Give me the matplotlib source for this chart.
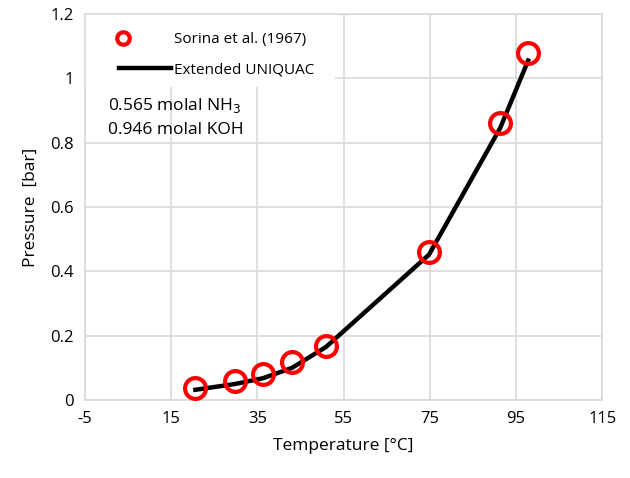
import matplotlib
matplotlib.use("Agg")
import matplotlib.pyplot as plt
from matplotlib.patches import Rectangle

# experimental data (Sorina et al. 1967)
tExp = [20.6, 29.8, 36.3, 43.0, 50.9, 74.8, 91.3, 97.8]
pExp = [0.037, 0.060, 0.080, 0.118, 0.168, 0.459, 0.861, 1.079]

# model curve (Extended UNIQUAC)
tMod = [20.6, 29.8, 36.3, 43.0, 50.9, 74.8, 91.3, 97.8]
pMod = [0.032, 0.050, 0.068, 0.100, 0.165, 0.452, 0.845, 1.055]

xTicks = [-5, 15, 35, 55, 75, 95, 115]
yTicks = [0, 0.2, 0.4, 0.6, 0.8, 1.0, 1.2]
yTickLabels = ['0', '0.2', '0.4', '0.6', '0.8', '1', '1.2']

plt.rcParams['font.family'] = ['Open Sans', 'DejaVu Sans']
plt.rcParams['axes.unicode_minus'] = False

fig = plt.figure(figsize=(6.3, 4.78), dpi=100)
ax = fig.add_axes([0.135, 0.163, 0.821, 0.808])

ax.plot(tMod, pMod, color='black', lw=3.2, label='Extended UNIQUAC', zorder=2)
ax.plot(tExp, pExp, 'o', ms=15, mfc='none', mec='red', mew=3,
        label='Sorina et al. (1967)', zorder=3)

ax.set_xlim(-5, 115)
ax.set_ylim(0, 1.2)
ax.set_xticks(xTicks)
ax.set_yticks(yTicks)
ax.set_yticklabels(yTickLabels)
ax.tick_params(length=0, labelsize=12, pad=8)
ax.grid(True, color='#d9d9d9', lw=1.2)
ax.set_axisbelow(True)
for s in ax.spines.values():
    s.set_color('#d9d9d9')
    s.set_linewidth(1.2)

ax.set_xlabel('Temperature [°C]', fontsize=12.5, labelpad=8)
ax.set_ylabel('Pressure  [bar]', fontsize=12.5, labelpad=8)

# white legend area hides the grid, reaching the left axis
ax.add_patch(Rectangle((0, 0.81), 0.484, 0.19, transform=ax.transAxes,
                       facecolor='white', edgecolor='none', zorder=1))

# legend, order: markers then line
h, l = ax.get_legend_handles_labels()
leg = ax.legend(h[::-1], l[::-1], loc='upper left', bbox_to_anchor=(0.03, 1.0),
                borderaxespad=0, borderpad=1.2, frameon=False,
                fontsize=11, handlelength=3.4, handletextpad=0.2, labelspacing=1.0,
                markerscale=0.6)
leg.set_zorder(4)
# put the legend marker at the left of its handle, like Excel does
mk = leg.legend_handles[0]
mk.set_xdata([0, 3, 6])

ax.text(0.044, 0.764, '0.565 molal NH$_3$', transform=ax.transAxes, fontsize=12.5,
        va='center', zorder=5)
ax.text(0.044, 0.70, '0.946 molal KOH', transform=ax.transAxes, fontsize=12.5,
        va='center', zorder=5)

plt.savefig('out.png', dpi=100)
